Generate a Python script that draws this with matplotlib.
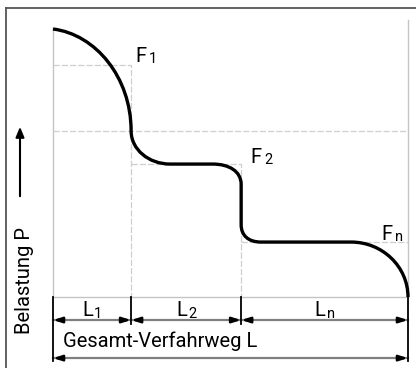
import matplotlib
matplotlib.use("Agg")
import matplotlib.pyplot as plt
from matplotlib.path import Path
from matplotlib.patches import PathPatch, FancyArrowPatch
from matplotlib.lines import Line2D

plt.rcParams['font.family'] = ['Roboto', 'DejaVu Sans']

# travel segments (percent of total travel L)
seg_names = ["1", "2", "n"]
seg_len = [22, 31, 47]

# load levels (percent of start load)
P_start = 100
F_levels = [86.6, 49.6, 20.5]   # F1, F2, Fn
P_knee = 62                     # load at end of L1
P_step2 = [42, 27]              # vertical drop at end of L2

x1 = seg_len[0]
x2 = seg_len[0] + seg_len[1]
x3 = sum(seg_len)

# load curve: anchors + bezier control points
curve_pts = [
    (0, P_start),
    (12, 98), (x1, 82), (x1, P_knee),
    (x1, 55), (27, F_levels[1]), (33, F_levels[1]),
    (45, F_levels[1]),
    (49.5, F_levels[1]), (x2, 47), (x2, P_step2[0]),
    (x2, P_step2[1]),
    (x2, 23), (55, F_levels[2]), (58.6, F_levels[2]),
    (84, F_levels[2]),
    (92.8, F_levels[2]), (x3, 11.3), (x3, 0),
]
C4, LT = Path.CURVE4, Path.LINETO
curve_codes = [Path.MOVETO, C4, C4, C4, C4, C4, C4, LT, C4, C4, C4, LT,
               C4, C4, C4, LT, C4, C4, C4]

fig = plt.figure(figsize=(4.16, 3.68), dpi=100)
ax = fig.add_axes([53/416, 71/368, 355/416, 268/368])
ax.set_xlim(0, 100)
ax.set_ylim(0, 100)
ax.axis('off')

# outer frame
fig.add_artist(Line2D([6/416, 1.0], [1-8/368, 1-8/368], transform=fig.transFigure,
                      color='#555555', lw=1.3))
fig.add_artist(Line2D([6/416, 6/416], [0, 1-8/368], transform=fig.transFigure,
                      color='#555555', lw=1.3))

grey = '#c4c4c4'
kw_solid = dict(color=grey, lw=1.0, clip_on=False, zorder=1)
kw_dash = dict(color='#cfcfcf', lw=0.9, ls=(0, (5, 1.6)), clip_on=False, zorder=1)

# frame of the diagram
ax.plot([0, 0], [0, 100.4], **kw_solid)
ax.plot([x3, x3], [0, 103.4], **kw_solid)
ax.plot([0, x3], [0, 0], **kw_solid)

# guide lines
ax.plot([0, x1, x1], [F_levels[0], F_levels[0], 0], **kw_dash)
ax.plot([0, x3], [P_knee, P_knee], **kw_dash)
ax.plot([x1, x2, x2], [F_levels[1], F_levels[1], 0], **kw_dash)
ax.plot([x2, x3], [F_levels[2], F_levels[2]], **kw_dash)

# load curve
ax.add_patch(PathPatch(Path(curve_pts, curve_codes), fill=False, ec='black',
                       lw=2.4, capstyle='butt', joinstyle='round', clip_on=False,
                       zorder=5))

fs = 14.5
fs_sub = 10.5


def label(x, y, main, sub, ha='left'):
    t = ax.text(x, y, main, fontsize=fs, ha=ha, va='baseline')
    dx = 1 if ha == 'right' else 14
    ax.annotate(sub, (x, y), xytext=(dx, -1.5), textcoords='offset pixels',
                fontsize=fs_sub, ha='left', va='baseline', annotation_clip=False)
    return t


label(23.1, 87.7, "F", "1")
label(55.5, 50.0, "F", "2")
label(92.4, 21.3, "F", "n")

# dimension lines
y_dim1, y_dim2 = -8.6, -22.8
ax.plot([0, x3], [y_dim1, y_dim1], color='#7f7f7f', lw=1.6, clip_on=False)
ax.plot([0, x3], [y_dim2, y_dim2], color='#7f7f7f', lw=1.6, clip_on=False)
for xb, yb in [(0, -23.9), (x1, -10), (x2, -10), (x3, -23.9)]:
    ax.plot([xb, xb], [0, yb], color='black', lw=1.3, clip_on=False)

arrow = dict(arrowstyle='-|>,head_length=0.5,head_width=0.16', color='black',
             lw=1.8, shrinkA=0, shrinkB=0)
bounds = [0, x1, x2, x3]
for i in range(3):
    a, b = bounds[i], bounds[i + 1]
    ax.annotate("", xy=(a, y_dim1), xytext=(a + 2.4, y_dim1), arrowprops=arrow,
                annotation_clip=False)
    ax.annotate("", xy=(b, y_dim1), xytext=(b - 2.4, y_dim1), arrowprops=arrow,
                annotation_clip=False)
    mid = (a + b) / 2
    label(mid + 0.3, y_dim1 + 1.4, "L", seg_names[i], ha='right')
ax.annotate("", xy=(0, y_dim2), xytext=(2.4, y_dim2), arrowprops=arrow,
            annotation_clip=False)
ax.annotate("", xy=(x3, y_dim2), xytext=(x3 - 2.4, y_dim2), arrowprops=arrow,
            annotation_clip=False)

ax.text(2.8, -18.6, "Gesamt-Verfahrweg L", fontsize=fs, ha='left', va='baseline')

# y label with arrow
fig.text(25/416, 1-281/368, "Belastung P", fontsize=fs, rotation=90,
         ha='center', va='center')
fig.add_artist(FancyArrowPatch(
    (20/416, 1-199/368), (20/416, 1-124/368), transform=fig.transFigure,
    arrowstyle='-|>,head_length=6,head_width=2.5', color='black', lw=1.5,
    mutation_scale=1))

fig.savefig("out.png", dpi=100)
